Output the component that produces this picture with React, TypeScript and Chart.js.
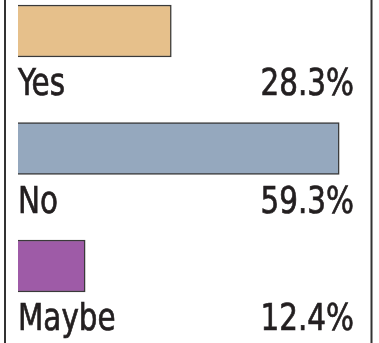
import React, { useEffect, useRef } from "react";
import { Chart, registerables } from "chart.js";

Chart.register(...registerables);

const categories = ["Yes", "No", "Maybe"];
const values = [28.3, 59.3, 12.4];
const barColors = ["#E6C08B", "#95A8BE", "#9E5BA7"];

const FONT = '"DejaVu Sans Condensed", "Liberation Sans Narrow", sans-serif';
const SX = 0.86;

const labelPlugin = {
  id: "labelPlugin",
  afterDatasetsDraw(chart: any) {
    const { ctx } = chart;
    const meta = chart.getDatasetMeta(0);
    ctx.save();
    ctx.fillStyle = "#231F20";
    ctx.strokeStyle = "#231F20";
    ctx.lineWidth = 0.7;
    ctx.font = `38px ${FONT}`;
    ctx.textBaseline = "alphabetic";
    meta.data.forEach((bar: any, i: number) => {
      const y = bar.y + 64;
      ctx.save();
      ctx.scale(SX, 1);
      ctx.textAlign = "left";
      ctx.fillText(categories[i], 18 / SX, y);
      ctx.strokeText(categories[i], 18 / SX, y);
      ctx.textAlign = "right";
      const t = values[i].toFixed(1) + "%";
      ctx.fillText(t, 354 / SX, y);
      ctx.strokeText(t, 354 / SX, y);
      ctx.restore();
    });
    ctx.strokeStyle = "#333333";
    ctx.lineWidth = 2;
    ctx.beginPath();
    ctx.moveTo(5, 0);
    ctx.lineTo(5, chart.height);
    ctx.moveTo(371.5, 0);
    ctx.lineTo(371.5, chart.height);
    ctx.stroke();
    ctx.restore();
  },
};

export default function App() {
  const ref = useRef<HTMLCanvasElement | null>(null);
  useEffect(() => {
    if (!ref.current) return;
    const chart = new Chart(ref.current, {
      type: "bar",
      data: {
        labels: categories,
        datasets: [
          {
            data: values,
            backgroundColor: barColors,
            borderColor: "#3A3A3A",
            borderWidth: 1.5,
            barThickness: 52,
            clip: false as any,
          },
        ],
      },
      options: {
        indexAxis: "y",
        animation: false,
        responsive: false,
        maintainAspectRatio: false,
        layout: { padding: { left: 18, right: 36, top: 31, bottom: 77 } },
        plugins: { legend: { display: false }, tooltip: { enabled: false } },
        scales: {
          x: { display: false, min: 0, max: 60 },
          y: { display: false, offset: false },
        },
      },
      plugins: [labelPlugin],
    });
    return () => chart.destroy();
  }, []);
  return (
    <div style={{ position: "fixed", left: 0, top: 0, width: 379, height: 343, background: "#fff" }}>
      <canvas ref={ref} width={379} height={343} style={{ width: 379, height: 343 }} />
    </div>
  );
}
